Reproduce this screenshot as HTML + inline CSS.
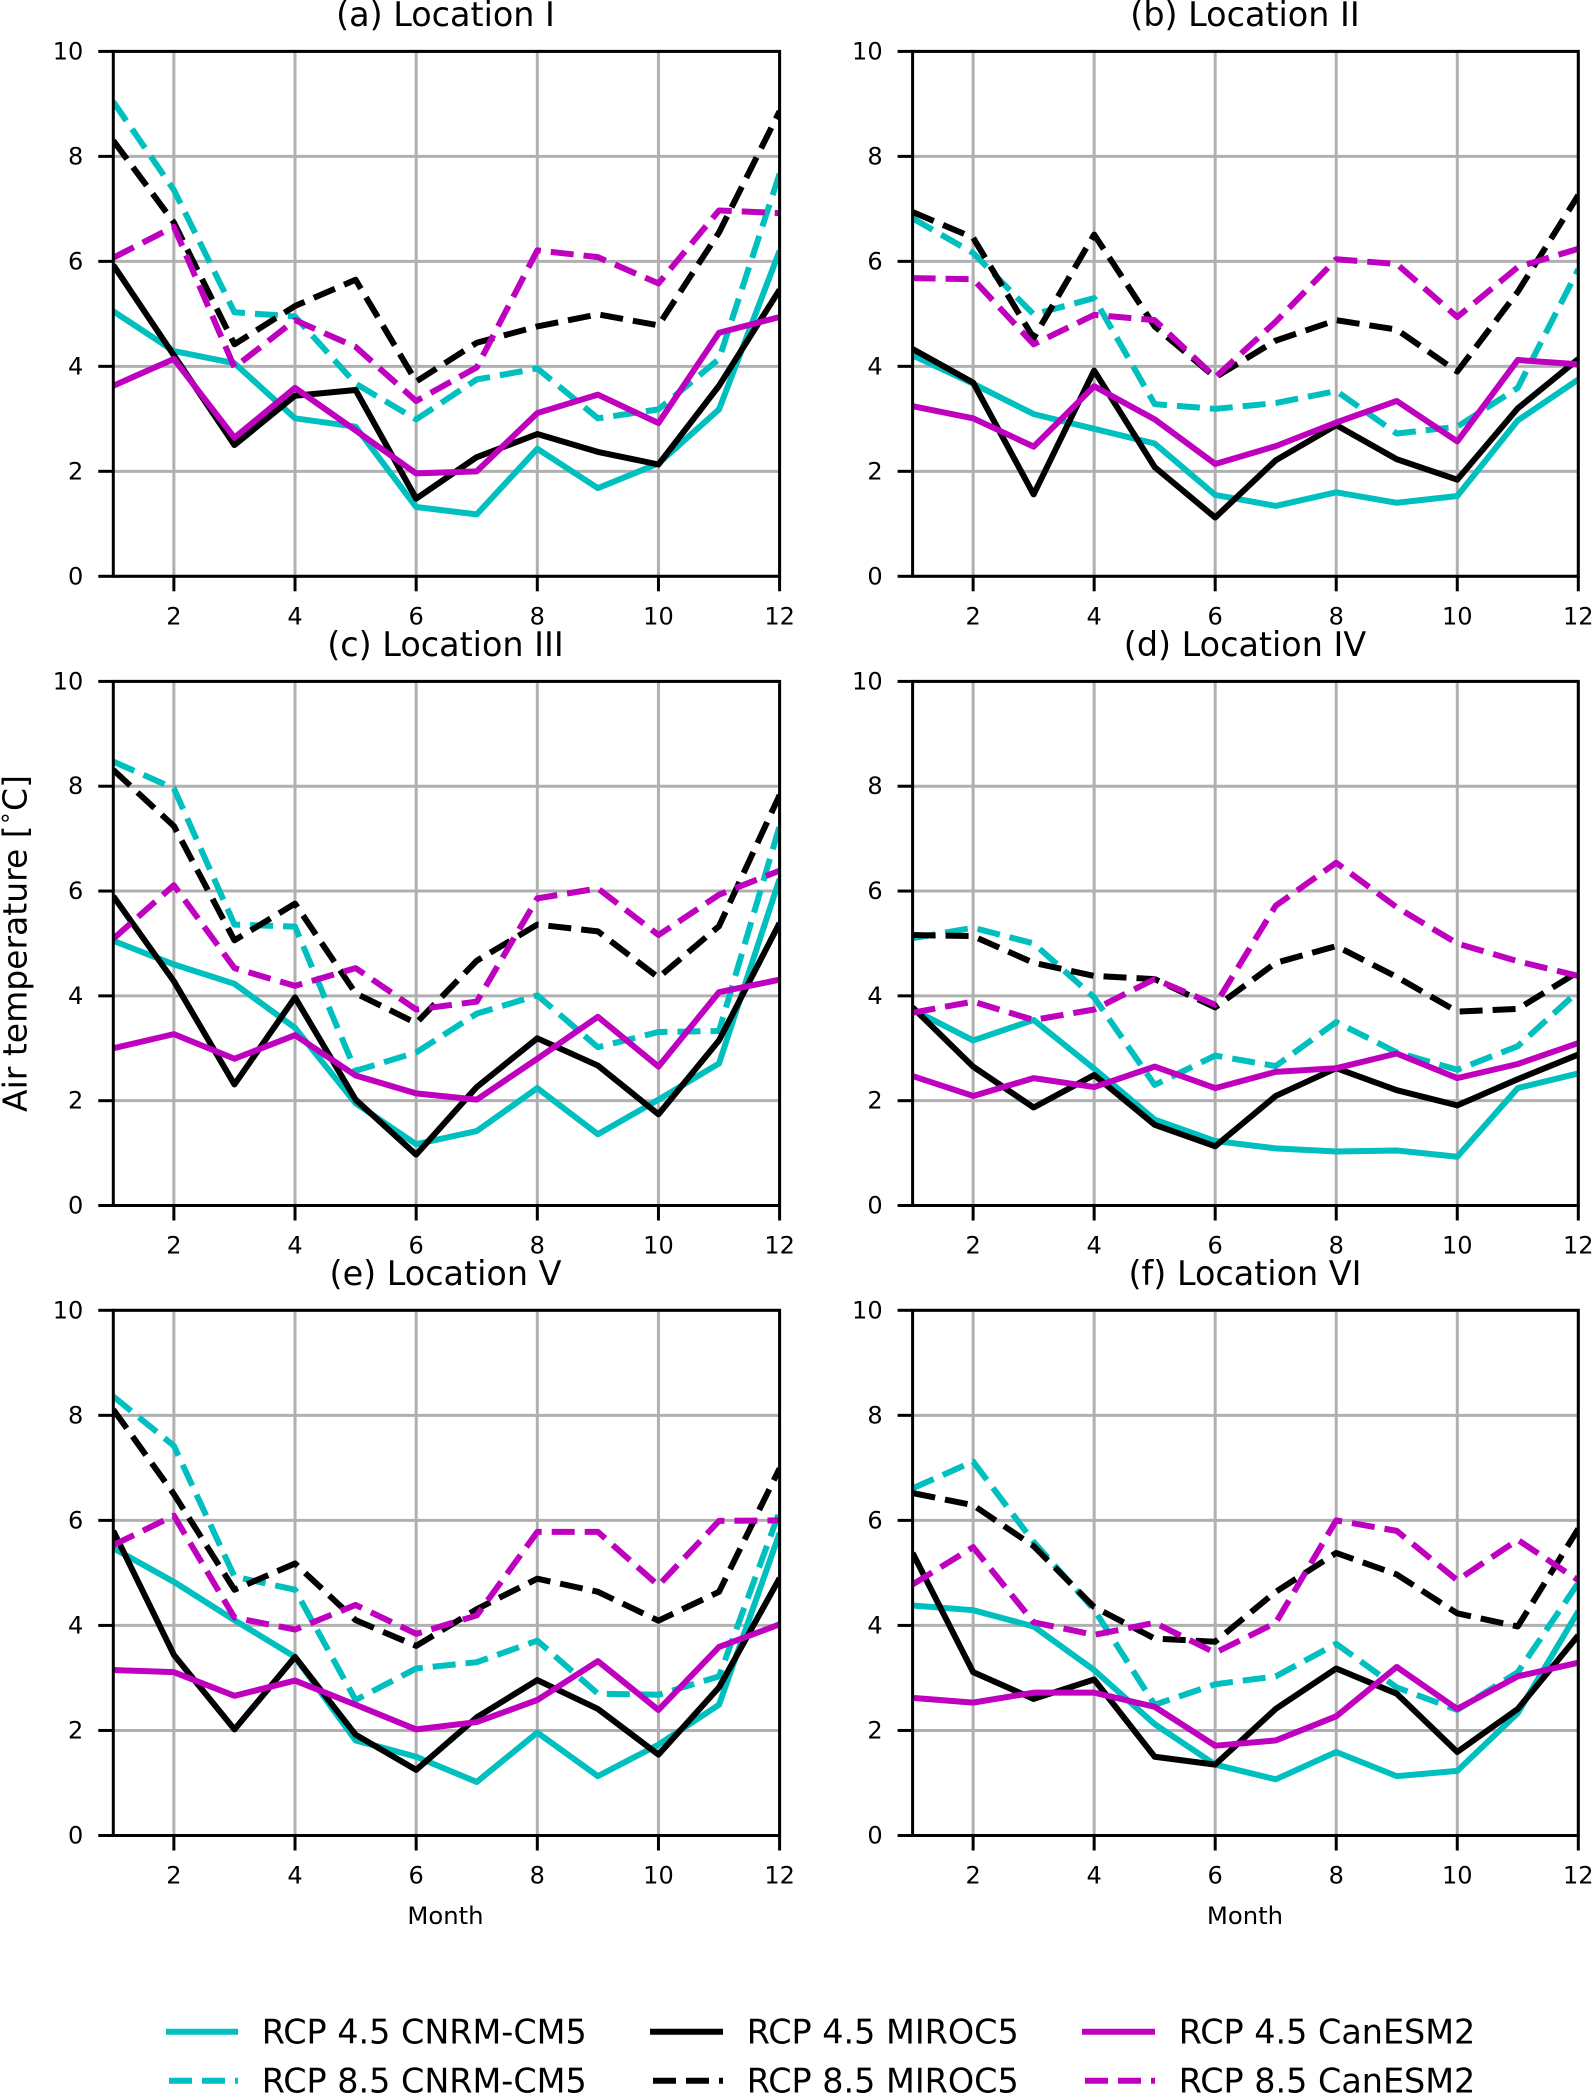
<!DOCTYPE html>
<html lang="en">
<head>
<meta charset="utf-8">
<title>Monthly air temperature by location</title>
<style>
  html, body { margin: 0; padding: 0; background: #fff; }
  body { width: 1592px; height: 2093px; overflow: hidden; }
  svg { display: block; }
  text { font-family: "DejaVu Sans", "Liberation Sans", sans-serif; fill: #000; }
  .title { font-size: 33.4px; text-anchor: middle; }
  .tick-y { font-size: 24px; text-anchor: end; dominant-baseline: central; }
  .tick-x { font-size: 24px; text-anchor: middle; }
  .axis-x { font-size: 24.3px; text-anchor: middle; }
  .axis-y { font-size: 33px; text-anchor: middle; }
  .legend-text { font-size: 33.4px; }
</style>
</head>
<body>
<svg id="figure" xmlns="http://www.w3.org/2000/svg" width="1592" height="2093" viewBox="0 0 1592 2093">
  <rect x="0" y="0" width="1592" height="2093" fill="#fff"/>
  <g id="panels"></g>

  <text class="title" x="445.5" y="26">(a) Location I</text>
  <text class="title" x="1245" y="26">(b) Location II</text>
  <text class="title" x="445.5" y="656">(c) Location III</text>
  <text class="title" x="1245" y="656">(d) Location IV</text>
  <text class="title" x="445.5" y="1285">(e) Location V</text>
  <text class="title" x="1245" y="1285">(f) Location VI</text>

  <text class="axis-y" transform="translate(26.5 943.5) rotate(-90)">Air temperature [<tspan font-size="23" dy="-14">∘</tspan><tspan dy="14">C]</tspan></text>
  <text class="axis-x" x="445.5" y="1924">Month</text>
  <text class="axis-x" x="1245" y="1924">Month</text>

  <g>
    <g>
      <line x1="166" x2="238" y1="2031.7" y2="2031.7" stroke="#00bfbf" stroke-width="6"/>
      <text class="legend-text" x="261.7" y="2043.3">RCP 4.5 CNRM-CM5</text>
    </g>
    <g>
      <line x1="166" x2="238" y1="2080.7" y2="2080.7" stroke="#00bfbf" stroke-width="6" stroke-dasharray="23 10" stroke-dashoffset="30"/>
      <text class="legend-text" x="261.7" y="2092.7">RCP 8.5 CNRM-CM5</text>
    </g>
    <g>
      <line x1="650" x2="723" y1="2031.7" y2="2031.7" stroke="#000" stroke-width="6"/>
      <text class="legend-text" x="746.7" y="2043.3">RCP 4.5 MIROC5</text>
    </g>
    <g>
      <line x1="650" x2="723" y1="2080.7" y2="2080.7" stroke="#000" stroke-width="6" stroke-dasharray="23 10" stroke-dashoffset="30"/>
      <text class="legend-text" x="746.7" y="2092.7">RCP 8.5 MIROC5</text>
    </g>
    <g>
      <line x1="1082" x2="1155" y1="2031.7" y2="2031.7" stroke="#bf00bf" stroke-width="6"/>
      <text class="legend-text" x="1178.7" y="2043.3">RCP 4.5 CanESM2</text>
    </g>
    <g>
      <line x1="1082" x2="1155" y1="2080.7" y2="2080.7" stroke="#bf00bf" stroke-width="6" stroke-dasharray="23 10" stroke-dashoffset="30"/>
      <text class="legend-text" x="1178.7" y="2092.7">RCP 8.5 CanESM2</text>
    </g>
  </g>
</svg>

<script>
// Categories and tick labels
const months = [1, 2, 3, 4, 5, 6, 7, 8, 9, 10, 11, 12];
const xTickLabels = [2, 4, 6, 8, 10, 12];
const yTickLabels = [0, 2, 4, 6, 8, 10];

// (a) Location I
const aCnrm45  = [5.05, 4.29, 4.06, 3.01, 2.85, 1.32, 1.18, 2.43, 1.68, 2.15, 3.18, 6.20];
const aCnrm85  = [9.04, 7.36, 5.03, 4.95, 3.67, 2.99, 3.75, 3.96, 3.01, 3.18, 4.14, 7.67];
const aMiroc45 = [5.93, 4.21, 2.50, 3.44, 3.55, 1.48, 2.27, 2.71, 2.37, 2.13, 3.63, 5.46];
const aMiroc85 = [8.30, 6.74, 4.42, 5.15, 5.65, 3.71, 4.45, 4.76, 4.99, 4.78, 6.55, 8.86];
const aCan45   = [3.63, 4.14, 2.64, 3.59, 2.78, 1.96, 2.00, 3.11, 3.46, 2.92, 4.64, 4.94];
const aCan85   = [6.07, 6.66, 3.98, 4.88, 4.37, 3.34, 3.98, 6.21, 6.08, 5.58, 6.97, 6.92];

// (b) Location II
const bCnrm45  = [4.21, 3.67, 3.09, 2.81, 2.53, 1.55, 1.34, 1.60, 1.40, 1.53, 2.97, 3.75];
const bCnrm85  = [6.82, 6.16, 4.99, 5.30, 3.28, 3.19, 3.30, 3.53, 2.72, 2.85, 3.59, 5.85];
const bMiroc45 = [4.33, 3.69, 1.56, 3.92, 2.08, 1.12, 2.21, 2.88, 2.23, 1.84, 3.20, 4.14];
const bMiroc85 = [6.94, 6.45, 4.54, 6.51, 4.76, 3.79, 4.49, 4.88, 4.70, 3.90, 5.42, 7.26];
const bCan45   = [3.24, 3.01, 2.47, 3.62, 2.99, 2.14, 2.48, 2.93, 3.34, 2.57, 4.12, 4.04];
const bCan85   = [5.68, 5.66, 4.42, 4.98, 4.88, 3.79, 4.85, 6.04, 5.95, 4.94, 5.89, 6.24];

// (c) Location III
const cCnrm45  = [5.05, 4.60, 4.23, 3.39, 1.95, 1.17, 1.42, 2.24, 1.36, 2.02, 2.71, 6.23];
const cCnrm85  = [8.47, 7.96, 5.36, 5.32, 2.57, 2.92, 3.66, 4.01, 3.02, 3.31, 3.33, 7.24];
const cMiroc45 = [5.90, 4.28, 2.31, 3.97, 2.02, 0.97, 2.26, 3.19, 2.67, 1.74, 3.15, 5.39];
const cMiroc85 = [8.31, 7.24, 5.06, 5.76, 4.05, 3.48, 4.67, 5.36, 5.23, 4.35, 5.33, 7.83];
const cCan45   = [3.00, 3.27, 2.80, 3.25, 2.48, 2.14, 2.02, 2.80, 3.60, 2.65, 4.07, 4.31];
const cCan85   = [5.09, 6.11, 4.53, 4.19, 4.53, 3.74, 3.89, 5.86, 6.05, 5.16, 5.93, 6.39];

// (d) Location IV
const dCnrm45  = [3.74, 3.15, 3.54, 2.61, 1.64, 1.23, 1.09, 1.03, 1.05, 0.93, 2.24, 2.52];
const dCnrm85  = [5.10, 5.30, 5.00, 3.97, 2.30, 2.86, 2.66, 3.50, 2.92, 2.59, 3.04, 4.09];
const dMiroc45 = [3.78, 2.65, 1.87, 2.49, 1.54, 1.13, 2.09, 2.62, 2.20, 1.91, 2.41, 2.88];
const dMiroc85 = [5.16, 5.14, 4.63, 4.38, 4.32, 3.78, 4.63, 4.95, 4.36, 3.70, 3.75, 4.46];
const dCan45   = [2.47, 2.09, 2.43, 2.26, 2.65, 2.24, 2.55, 2.62, 2.90, 2.43, 2.70, 3.10];
const dCan85   = [3.68, 3.89, 3.54, 3.74, 4.32, 3.83, 5.72, 6.54, 5.69, 5.00, 4.66, 4.38];

// (e) Location V
const eCnrm45  = [5.47, 4.83, 4.10, 3.40, 1.81, 1.50, 1.02, 1.96, 1.13, 1.73, 2.49, 5.76];
const eCnrm85  = [8.36, 7.42, 4.93, 4.68, 2.58, 3.18, 3.30, 3.71, 2.70, 2.68, 3.03, 6.17];
const eMiroc45 = [5.80, 3.44, 2.02, 3.40, 1.92, 1.25, 2.25, 2.96, 2.41, 1.54, 2.82, 4.90];
const eMiroc85 = [8.11, 6.50, 4.68, 5.18, 4.10, 3.61, 4.31, 4.89, 4.64, 4.09, 4.64, 6.99];
const eCan45   = [3.15, 3.11, 2.66, 2.95, 2.49, 2.02, 2.16, 2.58, 3.32, 2.39, 3.59, 4.02];
const eCan85   = [5.53, 6.09, 4.15, 3.92, 4.39, 3.84, 4.19, 5.78, 5.78, 4.76, 5.99, 6.00];

// (f) Location VI
const fCnrm45  = [4.38, 4.29, 3.98, 3.15, 2.12, 1.35, 1.07, 1.59, 1.13, 1.23, 2.33, 4.27];
const fCnrm85  = [6.61, 7.12, 5.59, 4.30, 2.49, 2.88, 3.03, 3.65, 2.82, 2.39, 3.11, 4.81];
const fMiroc45 = [5.38, 3.11, 2.60, 2.97, 1.50, 1.35, 2.41, 3.18, 2.70, 1.59, 2.41, 3.81];
const fMiroc85 = [6.52, 6.29, 5.51, 4.35, 3.75, 3.69, 4.64, 5.38, 4.97, 4.23, 3.98, 5.84];
const fCan45   = [2.62, 2.53, 2.72, 2.72, 2.45, 1.71, 1.81, 2.27, 3.21, 2.41, 3.03, 3.29];
const fCan85   = [4.78, 5.49, 4.06, 3.82, 4.05, 3.48, 4.05, 6.00, 5.80, 4.86, 5.63, 4.86];

const panelSeries = [
  [aCnrm45, aCnrm85, aMiroc45, aMiroc85, aCan45, aCan85],
  [bCnrm45, bCnrm85, bMiroc45, bMiroc85, bCan45, bCan85],
  [cCnrm45, cCnrm85, cMiroc45, cMiroc85, cCan45, cCan85],
  [dCnrm45, dCnrm85, dMiroc45, dMiroc85, dCan45, dCan85],
  [eCnrm45, eCnrm85, eMiroc45, eMiroc85, eCan45, eCan85],
  [fCnrm45, fCnrm85, fMiroc45, fMiroc85, fCan45, fCan85]
];
const panelKeys = ['location-i', 'location-ii', 'location-iii', 'location-iv', 'location-v', 'location-vi'];
const seriesKeys = ['rcp45-cnrm', 'rcp85-cnrm', 'rcp45-miroc', 'rcp85-miroc', 'rcp45-canesm', 'rcp85-canesm'];
const seriesColors = ['#00bfbf', '#00bfbf', '#000000', '#000000', '#bf00bf', '#bf00bf'];
const seriesDashed = [false, true, false, true, false, true];

// Layout of the 2 x 3 grid of axes
const columnBounds = [[113.3, 779.6], [912.6, 1578.3]];
const rowBounds = [[51.4, 576.3], [681.4, 1205.5], [1310.3, 1835.5]];

const NS = 'http://www.w3.org/2000/svg';
const root = document.getElementById('panels');

function make(parent, tag, attrs) {
  const el = document.createElementNS(NS, tag);
  for (const k in attrs) el.setAttribute(k, attrs[k]);
  parent.appendChild(el);
  return el;
}

function drawPanel(index) {
  const col = columnBounds[index % 2];
  const row = rowBounds[Math.floor(index / 2)];
  const key = panelKeys[index];
  const xScale = function (m) { return col[0] + (m - 1) / 11 * (col[1] - col[0]); };
  const yScale = function (v) { return row[1] - v / 10 * (row[1] - row[0]); };

  const panel = make(root, 'g', {});
  
  

  const clip = make(panel, 'clipPath', { id: 'clip-' + index });
  make(clip, 'rect', { x: col[0], y: row[0], width: col[1] - col[0], height: row[1] - row[0] });

  // Grid lines
  xTickLabels.forEach(function (t) {
    const g = make(panel, 'line', { x1: xScale(t), x2: xScale(t), y1: row[0], y2: row[1], stroke: '#b0b0b0', 'stroke-width': 3 });
    
    
  });
  yTickLabels.forEach(function (t) {
    const g = make(panel, 'line', { x1: col[0], x2: col[1], y1: yScale(t), y2: yScale(t), stroke: '#b0b0b0', 'stroke-width': 3 });
    
    
  });

  // Data series
  panelSeries[index].forEach(function (values, s) {
    const pts = values.map(function (v, i) { return xScale(months[i]).toFixed(2) + ',' + yScale(v).toFixed(2); }).join(' ');
    const attrs = { points: pts, fill: 'none', stroke: seriesColors[s], 'stroke-width': 6, 'stroke-linejoin': 'round', 'clip-path': 'url(#clip-' + index + ')' };
    if (seriesDashed[s]) attrs['stroke-dasharray'] = '23 10';
    const line = make(panel, 'polyline', attrs);
    
    
  });

  // Spines
  const frame = make(panel, 'rect', { x: col[0], y: row[0], width: col[1] - col[0], height: row[1] - row[0], fill: 'none', stroke: '#000', 'stroke-width': 3 });
  
  

  // Ticks and labels
  xTickLabels.forEach(function (t) {
    const tick = make(panel, 'line', { x1: xScale(t), x2: xScale(t), y1: row[1], y2: row[1] + 15, stroke: '#000', 'stroke-width': 3 });
    
    
    const label = make(panel, 'text', { class: 'tick-x', x: xScale(t), y: row[1] + 48 });
    label.textContent = String(t);
    
    
  });
  yTickLabels.forEach(function (t) {
    const tick = make(panel, 'line', { x1: col[0] - 15, x2: col[0], y1: yScale(t), y2: yScale(t), stroke: '#000', 'stroke-width': 3 });
    
    
    const label = make(panel, 'text', { class: 'tick-y', x: col[0] - 30, y: yScale(t) });
    label.textContent = String(t);
    
    
  });
}

panelSeries.forEach(function (_, i) { drawPanel(i); });
</script>
</body>
</html>
